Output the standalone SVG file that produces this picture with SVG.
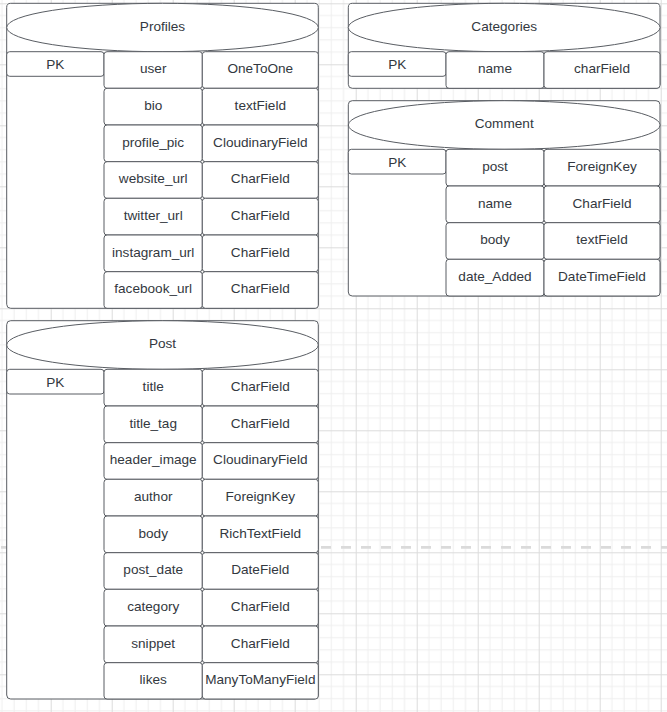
<svg xmlns="http://www.w3.org/2000/svg" width="667" height="712" viewBox="0 0 667 712">
<style>
.frame{fill:#ffffff;stroke:#595d63;stroke-width:1}
.cell{fill:#ffffff;stroke:#595d63;stroke-width:1}
.head{fill:#ffffff;stroke:#595d63;stroke-width:1}
text{font-family:"Liberation Sans",Arial,sans-serif;font-size:13.6px;fill:#333840;text-anchor:middle}
</style>
<defs>
<pattern id="grid" patternUnits="userSpaceOnUse" x="50.7" y="3.3" width="61" height="61">
<rect width="61" height="61" fill="#ffffff"/>
<g stroke="#efefef" stroke-width="1">
<line x1="12.2" y1="0" x2="12.2" y2="61"/>
<line x1="24.4" y1="0" x2="24.4" y2="61"/>
<line x1="36.6" y1="0" x2="36.6" y2="61"/>
<line x1="48.8" y1="0" x2="48.8" y2="61"/>
<line x1="0" y1="12.2" x2="61" y2="12.2"/>
<line x1="0" y1="24.4" x2="61" y2="24.4"/>
<line x1="0" y1="36.6" x2="61" y2="36.6"/>
<line x1="0" y1="48.8" x2="61" y2="48.8"/>
</g>
<g stroke="#dcdcdc" stroke-width="1">
<line x1="0.5" y1="0" x2="0.5" y2="61"/>
<line x1="0" y1="0.5" x2="61" y2="0.5"/>
</g>
</pattern>
</defs>
<rect x="0" y="0" width="667" height="712" fill="url(#grid)"/>
<line x1="1" y1="547.3" x2="667" y2="547.3" stroke="#dadada" stroke-width="2.7" stroke-dasharray="10 10"/>

<g id="connectors"></g>

<g id="profiles">
<rect class="frame" x="6.7" y="3.3" width="311.6" height="305" rx="4"/>
<ellipse class="head" cx="162.5" cy="27.5" rx="155.8" ry="24.2"/>
<text x="162.5" y="30.5">Profiles</text>
<rect class="cell" x="6.7" y="51.7" width="97.3" height="24.6" rx="3"/>
<text x="55.3" y="69">PK</text>
<rect class="cell" x="104" y="51.7" width="98.3" height="36.6" rx="3"/>
<rect class="cell" x="202.3" y="51.7" width="116" height="36.6" rx="3"/>
<rect class="cell" x="104" y="88.3" width="98.3" height="36.7" rx="3"/>
<rect class="cell" x="202.3" y="88.3" width="116" height="36.7" rx="3"/>
<rect class="cell" x="104" y="125" width="98.3" height="36.7" rx="3"/>
<rect class="cell" x="202.3" y="125" width="116" height="36.7" rx="3"/>
<rect class="cell" x="104" y="161.7" width="98.3" height="36.6" rx="3"/>
<rect class="cell" x="202.3" y="161.7" width="116" height="36.6" rx="3"/>
<rect class="cell" x="104" y="198.3" width="98.3" height="36.7" rx="3"/>
<rect class="cell" x="202.3" y="198.3" width="116" height="36.7" rx="3"/>
<rect class="cell" x="104" y="235" width="98.3" height="36.7" rx="3"/>
<rect class="cell" x="202.3" y="235" width="116" height="36.7" rx="3"/>
<rect class="cell" x="104" y="271.7" width="98.3" height="36.6" rx="3"/>
<rect class="cell" x="202.3" y="271.7" width="116" height="36.6" rx="3"/>
<text x="153.2" y="73.3">user</text>
<text x="260.3" y="73.3">OneToOne</text>
<text x="153.2" y="110">bio</text>
<text x="260.3" y="110">textField</text>
<text x="153.2" y="146.7">profile_pic</text>
<text x="260.3" y="146.7">CloudinaryField</text>
<text x="153.2" y="183.3">website_url</text>
<text x="260.3" y="183.3">CharField</text>
<text x="153.2" y="220">twitter_url</text>
<text x="260.3" y="220">CharField</text>
<text x="153.2" y="256.7">instagram_url</text>
<text x="260.3" y="256.7">CharField</text>
<text x="153.2" y="293.3">facebook_url</text>
<text x="260.3" y="293.3">CharField</text>
</g>

<g id="categories">
<rect class="frame" x="348.3" y="3.3" width="311.7" height="85" rx="4"/>
<ellipse class="head" cx="504.2" cy="27.5" rx="155.9" ry="24.2"/>
<text x="504.2" y="30.5">Categories</text>
<rect class="cell" x="348.3" y="51.7" width="97.7" height="24.6" rx="3"/>
<text x="397.2" y="69">PK</text>
<rect class="cell" x="446" y="51.7" width="98" height="36.6" rx="3"/>
<rect class="cell" x="544" y="51.7" width="116" height="36.6" rx="3"/>
<text x="495" y="73.3">name</text>
<text x="602" y="73.3">charField</text>
</g>

<g id="comment">
<rect class="frame" x="348.3" y="100.7" width="311.7" height="195.3" rx="4"/>
<ellipse class="head" cx="504.2" cy="125" rx="155.9" ry="24.3"/>
<text x="504.2" y="128">Comment</text>
<rect class="cell" x="348.3" y="149.3" width="97.7" height="24.7" rx="3"/>
<text x="397.2" y="166.5">PK</text>
<rect class="cell" x="446" y="149.3" width="98" height="36.7" rx="3"/>
<rect class="cell" x="544" y="149.3" width="116" height="36.7" rx="3"/>
<rect class="cell" x="446" y="186" width="98" height="36.7" rx="3"/>
<rect class="cell" x="544" y="186" width="116" height="36.7" rx="3"/>
<rect class="cell" x="446" y="222.7" width="98" height="36.6" rx="3"/>
<rect class="cell" x="544" y="222.7" width="116" height="36.6" rx="3"/>
<rect class="cell" x="446" y="259.3" width="98" height="36.7" rx="3"/>
<rect class="cell" x="544" y="259.3" width="116" height="36.7" rx="3"/>
<text x="495" y="171">post</text>
<text x="602" y="171">ForeignKey</text>
<text x="495" y="207.7">name</text>
<text x="602" y="207.7">CharField</text>
<text x="495" y="244.3">body</text>
<text x="602" y="244.3">textField</text>
<text x="495" y="281">date_Added</text>
<text x="602" y="281">DateTimeField</text>
</g>

<g id="post">
<rect class="frame" x="6.7" y="320.7" width="311.6" height="378.3" rx="4"/>
<ellipse class="head" cx="162.5" cy="345" rx="155.8" ry="24.3"/>
<text x="162.5" y="348">Post</text>
<rect class="cell" x="6.7" y="369.3" width="97.3" height="24.7" rx="3"/>
<text x="55.3" y="386.5">PK</text>
<rect class="cell" x="104" y="369.3" width="98.3" height="36.7" rx="3"/>
<rect class="cell" x="202.3" y="369.3" width="116" height="36.7" rx="3"/>
<rect class="cell" x="104" y="406" width="98.3" height="36.7" rx="3"/>
<rect class="cell" x="202.3" y="406" width="116" height="36.7" rx="3"/>
<rect class="cell" x="104" y="442.7" width="98.3" height="36.6" rx="3"/>
<rect class="cell" x="202.3" y="442.7" width="116" height="36.6" rx="3"/>
<rect class="cell" x="104" y="479.3" width="98.3" height="36.7" rx="3"/>
<rect class="cell" x="202.3" y="479.3" width="116" height="36.7" rx="3"/>
<rect class="cell" x="104" y="516" width="98.3" height="36.7" rx="3"/>
<rect class="cell" x="202.3" y="516" width="116" height="36.7" rx="3"/>
<rect class="cell" x="104" y="552.7" width="98.3" height="36.6" rx="3"/>
<rect class="cell" x="202.3" y="552.7" width="116" height="36.6" rx="3"/>
<rect class="cell" x="104" y="589.3" width="98.3" height="36.7" rx="3"/>
<rect class="cell" x="202.3" y="589.3" width="116" height="36.7" rx="3"/>
<rect class="cell" x="104" y="626" width="98.3" height="36.7" rx="3"/>
<rect class="cell" x="202.3" y="626" width="116" height="36.7" rx="3"/>
<rect class="cell" x="104" y="662.7" width="98.3" height="36.3" rx="3"/>
<rect class="cell" x="202.3" y="662.7" width="116" height="36.3" rx="3"/>
<text x="153.2" y="391">title</text>
<text x="260.3" y="391">CharField</text>
<text x="153.2" y="427.7">title_tag</text>
<text x="260.3" y="427.7">CharField</text>
<text x="153.2" y="464.3">header_image</text>
<text x="260.3" y="464.3">CloudinaryField</text>
<text x="153.2" y="501">author</text>
<text x="260.3" y="501">ForeignKey</text>
<text x="153.2" y="537.7">body</text>
<text x="260.3" y="537.7">RichTextField</text>
<text x="153.2" y="574.3">post_date</text>
<text x="260.3" y="574.3">DateField</text>
<text x="153.2" y="611">category</text>
<text x="260.3" y="611">CharField</text>
<text x="153.2" y="647.7">snippet</text>
<text x="260.3" y="647.7">CharField</text>
<text x="153.2" y="684.3">likes</text>
<text x="260.3" y="684.3">ManyToManyField</text>
</g>
</svg>
